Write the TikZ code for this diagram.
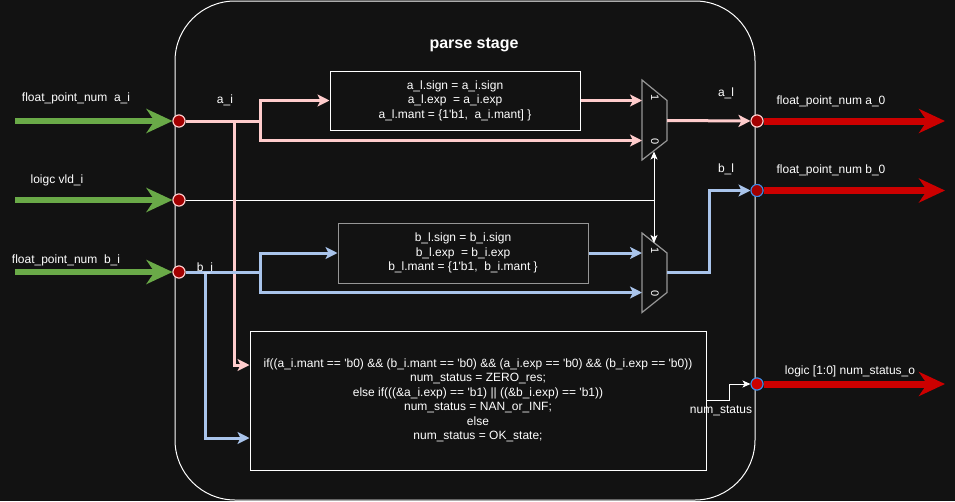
\documentclass[tikz,border=0pt]{standalone}
\usepackage{fontspec}
\setmainfont{Liberation Sans}
\usetikzlibrary{arrows.meta}
\definecolor{bg}{RGB}{18,18,18}
\definecolor{pinkc}{RGB}{255,204,204}
\definecolor{bluec}{RGB}{169,196,235}
\definecolor{greenc}{RGB}{106,170,72}
\definecolor{redc}{RGB}{204,0,0}
\definecolor{dotred}{RGB}{162,0,0}
\definecolor{dotblue}{RGB}{60,140,230}
\definecolor{muxgrey}{RGB}{150,150,150}
\newcommand\apos{\textquotesingle}
\tikzset{
  lbl/.style={font=\fontsize{12}{14.5}\selectfont, text=white, inner sep=0pt},
  codebox/.style={draw=white, line width=1pt, fill=bg, font=\fontsize{12}{14.5}\selectfont, text=white, align=center, inner sep=0pt},
  dotin/.style={circle, minimum size=12pt, inner sep=0pt, fill=dotred, draw=pinkc, line width=1pt},
  dotout/.style={circle, minimum size=12pt, inner sep=0pt, fill=dotred, draw=dotblue, line width=1pt},
  dotns/.style={circle, minimum size=12pt, inner sep=0pt, fill=redc, draw=dotblue, line width=1pt},
  garrow/.style={draw=greenc, line width=6pt, -{Stealth[length=26pt,width=24pt,inset=8pt]}},
  rarrow/.style={draw=redc, line width=7pt, -{Stealth[length=26pt,width=24pt,inset=8pt]}},
  pinkl/.style={draw=pinkc, line width=3pt},
  bluel/.style={draw=bluec, line width=3pt},
  tipc/.style={-{Stealth[length=12pt,width=12pt,inset=3pt]}},
  wline/.style={draw=white, line width=1pt},
  wtip/.style={-{Stealth[length=8pt,width=7pt,inset=2pt]}},
  mux/.style={draw=muxgrey, line width=1.2pt, fill=bg},
  muxlbl/.style={font=\fontsize{11}{12}\selectfont, text=white, rotate=-90, inner sep=0pt},
}
\begin{document}
\begin{tikzpicture}[x=1pt,y=-1pt]
\fill[bg] (0,0) rectangle (955,501);
\useasboundingbox (0,0) rectangle (955,501);

% container
\node[draw=white, line width=1pt, minimum width=580pt, minimum height=499pt, rounded corners=60pt, inner sep=0pt] (stage) at (465,250.5) {};
\node[font=\bfseries\fontsize{16}{18}\selectfont, text=white] (title) at (474,45) {parse stage};

% boxes
\node[codebox, minimum width=250pt, minimum height=59pt] (boxa) at (455,100.5)
  {a\_l.sign = a\_i.sign\\ a\_l.exp \ = a\_i.exp\\ a\_l.mant = \{1\apos b1, \ a\_i.mant] \}};
\node[codebox, draw=muxgrey, minimum width=250pt, minimum height=60pt] (boxb) at (463,253)
  {b\_l.sign = b\_i.sign\\ b\_l.exp \ = b\_i.exp\\ b\_l.mant = \{1\apos b1, \ b\_i.mant \}};
\node[codebox, minimum width=456pt, minimum height=139pt] (boxs) at (478,400.5)
  {if((a\_i.mant == \apos b0) \&\& (b\_i.mant == \apos b0) \&\& (a\_i.exp == \apos b0) \&\& (b\_i.exp == \apos b0))\\
   num\_status = ZERO\_res;\\
   else if(((\&a\_i.exp) == \apos b1) || ((\&b\_i.exp) == \apos b1))\\
   num\_status = NAN\_or\_INF;\\
   else\\
   num\_status = OK\_state;};

% mux shapes
\draw[mux] (642,80) -- (667,100.5) -- (667,140.5) -- (642,160) -- cycle;
\draw[mux] (642,233) -- (667,253) -- (667,292.5) -- (642,312.5) -- cycle;
\node[muxlbl] (ma1) at (655,98) {1};
\node[muxlbl] (ma0) at (655,142) {0};
\node[muxlbl] (mb1) at (655,251) {1};
\node[muxlbl] (mb0) at (655,294) {0};
\coordinate (muxa1) at (642,100.5);
\coordinate (muxa0) at (642,140.5);
\coordinate (muxaout) at (667,120.5);
\coordinate (muxb1) at (642,253);
\coordinate (muxb0) at (642,292.5);
\coordinate (muxbout) at (667,272.5);
\coordinate (selA) at (654,151.5);
\coordinate (selB) at (654,243);

% ports
\node[dotin] (dai) at (179,121) {};
\node[dotin] (dvld) at (179,200) {};
\node[dotin] (dbi) at (179,272) {};
\node[dotin] (dal) at (757,121) {};
\node[dotout] (dbl) at (757,190.5) {};
\node[dotns] (dns) at (757,384) {};

\coordinate (gai) at (15,121);
\coordinate (gvld) at (15,200);
\coordinate (gbi) at (15,272);
\coordinate (oal) at (945,121);
\coordinate (obl) at (945,190.5);
\coordinate (ons) at (945,384);

% select line (under)
\coordinate (sel) at (654,200);
\draw[wline] (dvld.east) -- (sel);
\draw[wline, wtip] (sel) -- (selA);
\draw[wline, wtip] (sel) -- (selB);

% input arrows
\draw[garrow] (gai) -- (dai.west);
\draw[garrow] (gvld) -- (dvld.west);
\draw[garrow] (gbi) -- (dbi.west);

% pink a path
\coordinate (splitA) at (260,121);
\coordinate (jA) at (234,121);
\coordinate (sA) at (boxs.west |- 0,365);
\draw[pinkl] (dai.east) -- (splitA);
\draw[pinkl, tipc] (splitA) |- (boxa.west);
\draw[pinkl, tipc] (splitA) |- (muxa0);
\draw[pinkl, tipc] (boxa.east) -- (muxa1);
\draw[pinkl, tipc] (jA) |- (sA);

% blue b path
\coordinate (splitB) at (260,272);
\coordinate (jB) at (205,272);
\coordinate (sB) at (boxs.west |- 0,438);
\draw[bluel] (dbi.east) -- (splitB);
\draw[bluel, tipc] (splitB) |- (boxb.west);
\draw[bluel, tipc] (splitB) |- (muxb0);
\draw[bluel, tipc] (boxb.east) -- (muxb1);
\draw[bluel, tipc] (jB) |- (sB);

% outputs
\coordinate (turnB) at (709,272.5);
\draw[pinkl, tipc] (muxaout) -- (dal.west);
\draw[bluel, tipc] (muxbout) -- (turnB) |- (dbl.west);
\coordinate (nsout) at (boxs.east |- 0,400);
\coordinate (turnN) at (729,400);
\draw[wline, wtip] (nsout) -- (turnN) |- (dns.west);

\draw[rarrow] (dal.east) -- (oal);
\draw[rarrow] (dbl.east) -- (obl);
\draw[rarrow] (dns.east) -- (ons);
\node[dotin] at (dal) {};
\node[dotout] at (dbl) {};
\node[dotns] at (dns) {};
\node[dotin] at (dai) {};
\node[dotin] at (dvld) {};
\node[dotin] at (dbi) {};

% labels
\node[lbl] (lai) at (76,98) {float\_point\_num \ a\_i};
\node[lbl] (lvld) at (57,180) {loigc vld\_i};
\node[lbl] (lbi) at (66,260) {float\_point\_num \ b\_i};
\node[lbl] (lai2) at (225,100) {a\_i};
\node[lbl] (lbi2) at (205,268) {b\_i};
\node[lbl] (lal) at (726,93) {a\_l};
\node[lbl] (lbl) at (726,169) {b\_l};
\node[lbl] (lao) at (831,101) {float\_point\_num a\_0};
\node[lbl] (lbo) at (831,170) {float\_point\_num b\_0};
\node[lbl] (lnso) at (850,371) {logic [1:0] num\_status\_o};
\node[lbl] (lns) at (721,411) {num\_status};
\end{tikzpicture}
\end{document}
